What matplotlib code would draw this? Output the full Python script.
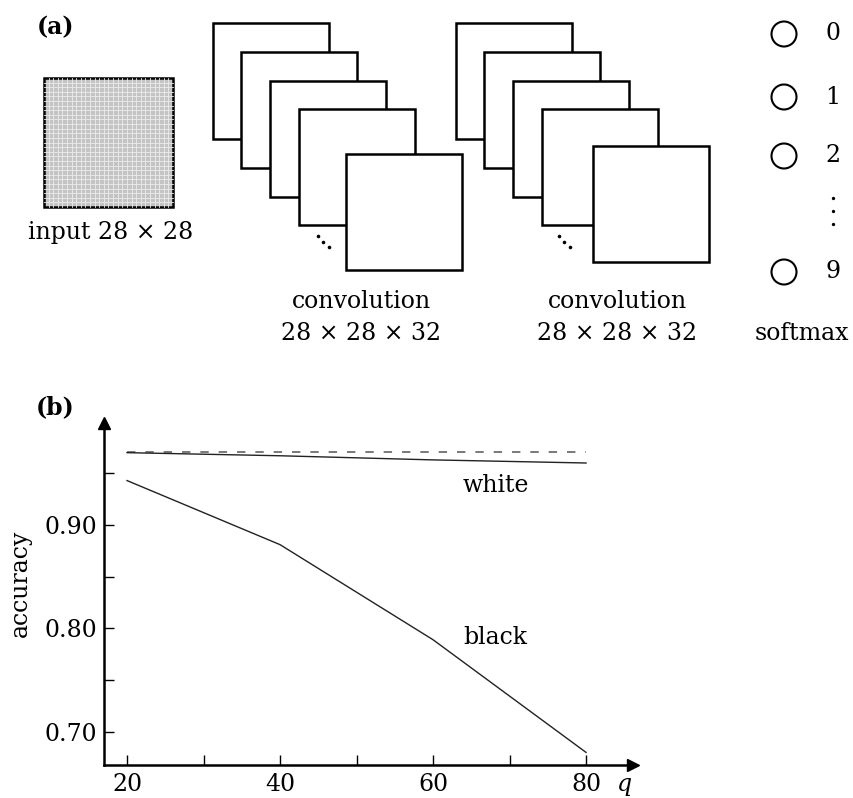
import numpy as np
import matplotlib
matplotlib.use("Agg")
import matplotlib.pyplot as plt
from matplotlib.patches import Rectangle, Circle

plt.rcParams['font.family'] = ['DejaVu Serif']
plt.rcParams['mathtext.fontset'] = 'dejavuserif'

# ---- data for panel (b) ----
q = [20, 40, 60, 80]
acc_black = [0.943, 0.881, 0.789, 0.680]
acc_white = [0.970, 0.967, 0.963, 0.960]
acc_ref = [0.971, 0.971, 0.971, 0.971]
x_major = [20, 40, 60, 80]
x_minor = [30, 50, 70]
y_major = [0.70, 0.80, 0.90]
y_minor = [0.75, 0.85, 0.95]
y_ticklabels = ["0.70", "0.80", "0.90"]

# ---- labels for panel (a) ----
output_classes = ["0", "1", "2", "9"]
conv_label = ["convolution", "28 × 28 × 32"]
input_label = "input 28 × 28"
grid_size = 28

W, H = 854, 798
FS = 17
fig = plt.figure(figsize=(W / 100, H / 100), dpi=100)

# overlay axes in pixel units for the network diagram
da = fig.add_axes([0, 0, 1, 1], zorder=0)
da.set_xlim(0, W)
da.set_ylim(H, 0)
da.axis('off')

# input image: a grey 28x28 grid
x0, y0, s = 44, 78, 129
da.add_patch(Rectangle((x0, y0), s, s, facecolor='#c4c4c4', edgecolor='none'))
for k in range(1, grid_size):
    t = k * s / grid_size
    da.plot([x0 + t, x0 + t], [y0, y0 + s], color='#ececec', lw=0.6)
    da.plot([x0, x0 + s], [y0 + t, y0 + t], color='#ececec', lw=0.6)
da.add_patch(Rectangle((x0, y0), s, s, facecolor='none', edgecolor='black', lw=1.8))
da.text(111, 233, input_label, ha='center', va='center', fontsize=FS)

# feature-map stacks
def stack(origins, last, dots):
    size = 116
    for (ox, oy) in origins + [last]:
        da.add_patch(Rectangle((ox, oy), size, size, facecolor='white',
                               edgecolor='black', lw=1.8))
    da.plot([d[0] for d in dots], [d[1] for d in dots], 'o', color='black',
            ms=2.6, mew=0)

stack([(213, 23), (241, 52), (270, 81), (299, 109)], (346, 154),
      [(318, 236), (323.5, 241.5), (329, 247)])
stack([(456, 23), (484, 52), (513, 81), (542, 109)], (593, 146),
      [(559, 236), (564.5, 241.5), (570, 247)])

for cx in (361, 617.5):
    da.text(cx, 302, conv_label[0], ha='center', va='center', fontsize=FS)
    da.text(cx, 333, conv_label[1], ha='center', va='center', fontsize=FS)

# softmax output units
for lab, cy in zip(output_classes, [34, 97, 156, 272]):
    da.add_patch(Circle((784, cy), 12.5, facecolor='white', edgecolor='black', lw=1.5))
    da.text(833, cy, lab, ha='center', va='center', fontsize=FS)
da.plot([833, 833, 833], [198, 211, 224], 'o', color='black', ms=2.4, mew=0)
da.text(802, 333, "softmax", ha='center', va='center', fontsize=FS)

da.text(55.5, 27, "(a)", ha='center', va='center', fontsize=FS, fontweight='bold')
da.text(55.5, 407, "(b)", ha='center', va='center', fontsize=FS, fontweight='bold')

# ---- panel (b): accuracy vs q ----
left, right, top, bottom = 104, 633, 423, 765
ax = fig.add_axes([left / W, 1 - bottom / H, (right - left) / W, (bottom - top) / H],
                  zorder=1)
ax.patch.set_alpha(0)
ax.set_xlim(16.99, 86.14)
ax.set_ylim(0.6678, 0.9987)

ax.plot(q, acc_ref, color='#555555', lw=1.1, dashes=(5.5, 6.5))
ax.plot(q, acc_white, color='#222222', lw=1.0)
ax.plot(q, acc_black, color='#222222', lw=1.0)

for sp in ('top', 'right'):
    ax.spines[sp].set_visible(False)
for sp in ('left', 'bottom'):
    ax.spines[sp].set_linewidth(1.8)
ax.plot(1, 0, '>', color='black', ms=9, transform=ax.transAxes, clip_on=False)
ax.plot(0, 1, '^', color='black', ms=9, transform=ax.transAxes, clip_on=False)

ax.set_xticks(x_major)
ax.set_xticks(x_minor, minor=True)
ax.set_yticks(y_major)
ax.set_yticks(y_minor, minor=True)
ax.set_yticklabels(y_ticklabels)
ax.tick_params(which='both', direction='in', length=7, width=1.0, labelsize=FS)
ax.tick_params(axis='x', which='major', pad=6)
ax.tick_params(axis='y', which='major', pad=5)

da.text(20, 583, "accuracy", ha='center', va='center', rotation=90, fontsize=FS)
da.text(624, 785, "q", ha='center', va='center', fontsize=FS, style='italic')
da.text(496, 486, "white", ha='center', va='center', fontsize=FS)
da.text(495, 637, "black", ha='center', va='center', fontsize=FS)

fig.savefig("out.png", dpi=100)
